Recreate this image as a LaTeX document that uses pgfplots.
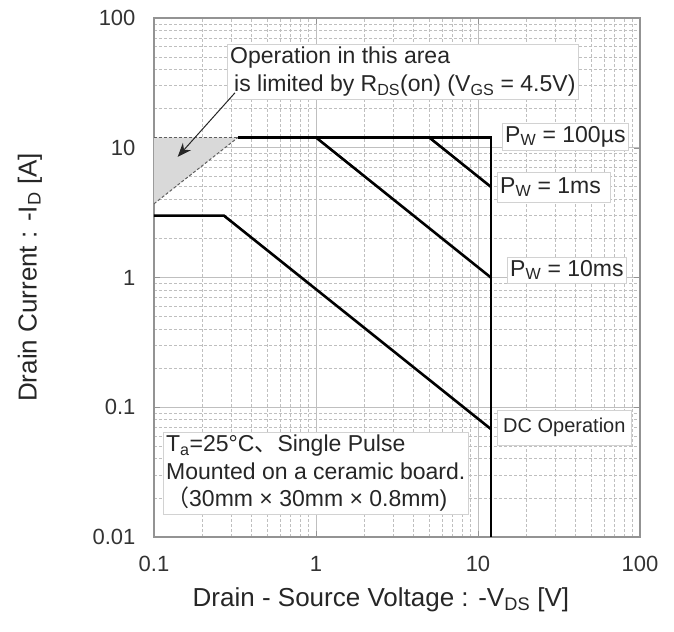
\documentclass[border=0pt]{standalone}
\usepackage{fontspec}
\setmainfont{Liberation Sans}
\newfontfamily\cjk{Noto Sans CJK JP}
\usepackage{pgfplots}
\pgfplotsset{compat=1.18}
\usetikzlibrary{arrows.meta,calc}

\begin{document}
\begin{tikzpicture}
\begin{axis}[name=ax,
  xmode=log, ymode=log,
  scale only axis, width=486pt, height=519pt,
  xmin=0.1, xmax=100, ymin=0.01, ymax=100,
  xtick={0.1,1,10,100}, xticklabels={0.1,1,10,100},
  ytick={0.01,0.1,1,10,100}, yticklabels={0.01,0.1,1,10,100},
  minor xtick={0.2,0.3,0.4,0.5,0.6,0.7,0.8,0.9,2,3,4,5,6,7,8,9,20,30,40,50,60,70,80,90},
  minor ytick={0.02,0.03,0.04,0.05,0.06,0.07,0.08,0.09,0.2,0.3,0.4,0.5,0.6,0.7,0.8,0.9,2,3,4,5,6,7,8,9,20,30,40,50,60,70,80,90},
  grid=both,
  major grid style={gray!50, line width=0.8pt},
  minor grid style={gray!50, line width=0.8pt, dash pattern=on 3pt off 2pt},
  axis line style={gray!85, line width=1.2pt},
  tick style={gray!85}, major tick length=6pt, minor tick length=0pt,
  tick align=inside,
  /pgf/number format/assume math mode=true,
  ticklabel style={font=\fontsize{22}{24}\selectfont, text=black!80},
  xticklabel style={yshift=-16pt},
  yticklabel style={xshift=-15pt},
]
% R_DS(on) limited area
\addplot[fill=gray!30, draw=none] coordinates {(0.1,3.7) (0.33,12) (0.1,12)} -- cycle;
\addplot[gray!75!black, line width=1pt, dash pattern=on 3pt off 2pt] coordinates {(0.1,3.7) (0.33,12)};
\addplot[gray!75!black, line width=1pt, dash pattern=on 3pt off 2pt] coordinates {(0.1,12) (0.33,12)};
% outer limit
\addplot[black, line width=2.6pt] coordinates {(0.33,12) (12,12) (12,0.01)};
% 1 ms
\addplot[black, line width=2.6pt] coordinates {(5,12) (12,5)};
% 10 ms
\addplot[black, line width=2.6pt] coordinates {(1,12) (12,1)};
% DC
\addplot[black, line width=2.6pt] coordinates {(0.1,3) (0.27,3) (12,0.068)};

\begin{scope}[every node/.style={fill=white, draw=gray!35, anchor=north west, align=left,
    font=\fontsize{23}{27.5}\selectfont, text=black!85, inner xsep=3pt, inner ysep=3pt}]
\node at (rel axis cs:0.1502,0.9499) {Operation in this area\\\hspace{4pt}is limited by R\textsubscript{DS}(on) (V\textsubscript{GS} = 4.5V)};
\node at (rel axis cs:0.716,0.7977) {P\textsubscript{W} = 100µs};
\node[inner ysep=5pt] at (rel axis cs:0.7058,0.7033) {P\textsubscript{W} = 1ms\hspace{6pt}};
\node at (rel axis cs:0.7263,0.5395) {P\textsubscript{W} = 10ms};
\node[font=\fontsize{20}{22}\selectfont, inner ysep=8pt, inner xsep=6pt] at (rel axis cs:0.7058,0.2447) {DC Operation};
\node at (rel axis cs:0.0185,0.2023) {T\textsubscript{a}=25°C{\cjk 、}Single Pulse\\Mounted on a ceramic board.\\{\cjk （}30mm × 30mm × 0.8mm)};
\end{scope}
\draw[gray!30!black, line width=1pt, -{Stealth[length=14pt, width=11pt]}] (axis cs:0.316,26.5) -- (axis cs:0.14,8.5);
\end{axis}
\node[font=\fontsize{26}{28}\selectfont, text=black!85] at ([yshift=-63pt]$(ax.south west)!0.467!(ax.south east)$) {Drain - Source Voltage : -V\textsubscript{DS} [V]};
\node[font=\fontsize{26}{28}\selectfont, text=black!85, rotate=90] at ([xshift=-124pt]$(ax.south west)!0.5!(ax.north west)$) {Drain Current : -I\textsubscript{D} [A]};
\pgfresetboundingbox
\path ([xshift=-154pt,yshift=-95pt]ax.south west) rectangle ([xshift=34pt,yshift=18pt]ax.north east);
\end{tikzpicture}
\end{document}
